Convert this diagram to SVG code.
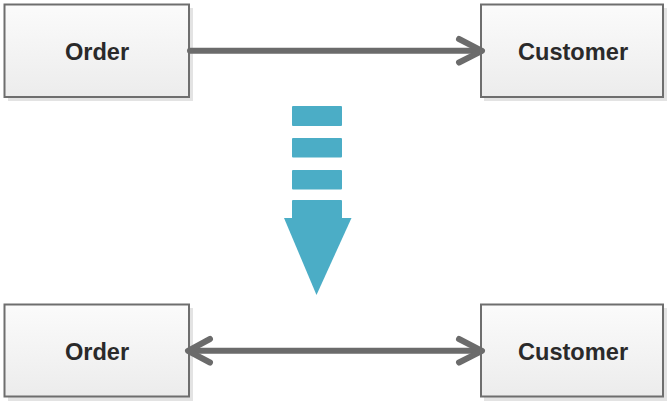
<svg xmlns="http://www.w3.org/2000/svg" width="670" height="402" viewBox="0 0 670 402">
<defs>
<linearGradient id="g" x1="0" y1="0" x2="0" y2="1">
<stop offset="0" stop-color="#fbfbfb"/>
<stop offset="1" stop-color="#ececec"/>
</linearGradient>
<style>
.sh{fill:#e3e3e3}
.box{fill:url(#g);stroke:#6e6e6e;stroke-width:2}
.t{font-family:"Liberation Sans",Arial,sans-serif;font-weight:bold;font-size:23.6px;fill:#2a2a2a;text-anchor:middle}
.c{stroke:#6b6b6b;stroke-width:6;fill:none;stroke-linecap:round;stroke-linejoin:round}
.b{fill:#4badc6}
</style>
</defs>
<rect width="670" height="402" fill="#fff"/>
<g id="order1"><rect class="sh" x="8" y="8" width="185" height="93"/><rect class="box" x="4.5" y="4.5" width="184.5" height="92.5"/><text class="t" x="97" y="60">Order</text></g>
<g id="customer1"><rect class="sh" x="484" y="8" width="183" height="93"/><rect class="box" x="481" y="4.5" width="182" height="92.5"/><text class="t" x="573" y="60">Customer</text></g>
<g id="order2"><rect class="sh" x="8" y="308" width="185" height="93"/><rect class="box" x="4.5" y="304.5" width="184.5" height="92"/><text class="t" x="97" y="360">Order</text></g>
<g id="customer2"><rect class="sh" x="484" y="308" width="183" height="93"/><rect class="box" x="481" y="304.5" width="182" height="92"/><text class="t" x="573" y="360">Customer</text></g>
<g id="transform">
<rect class="b" x="292" y="106" width="50" height="20" rx="1"/>
<rect class="b" x="292" y="138" width="50" height="19.5" rx="1"/>
<rect class="b" x="292" y="170" width="50" height="19.5" rx="1"/>
<rect class="b" x="292" y="200" width="50" height="20" rx="1"/>
<polygon class="b" points="284,218 351.5,218 316.5,295"/>
</g>
<g id="connectors">
<path class="c" d="M190,50.8 H481"/>
<path class="c" d="M459,39 L482,50.8 L459,62.5"/>
<path class="c" d="M190,350.8 H481"/>
<path class="c" d="M459,339 L482,350.8 L459,362.5"/>
<path class="c" d="M210,339 L188,350.8 L210,362.5"/>
</g>
</svg>
